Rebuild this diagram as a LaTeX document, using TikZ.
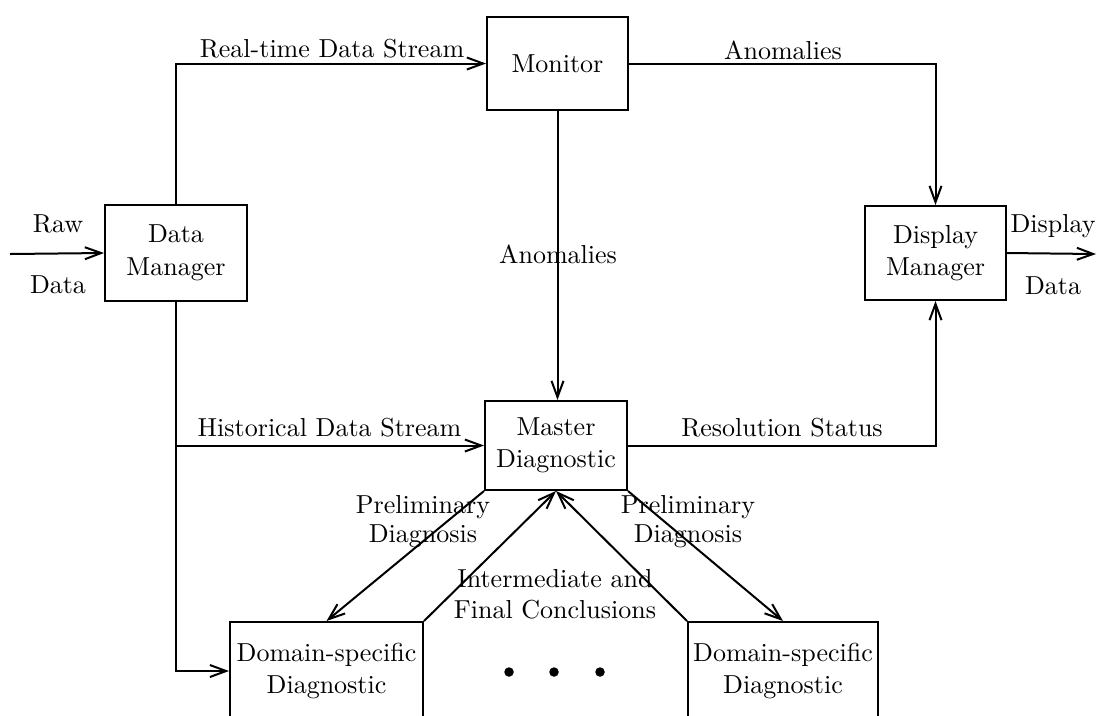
\documentclass[tikz,border=0pt]{standalone}
\usetikzlibrary{arrows.meta}
\begin{document}
\begin{tikzpicture}[x=0.4pt,y=-0.4pt,
  every node/.style={font=\fontsize{10.4}{13}\selectfont},
  box/.style={draw, line width=0.8pt, inner sep=0pt, align=center},
  lbl/.style={inner sep=0pt, anchor=base},
  dot/.style={circle, fill, inner sep=0pt, minimum size=3.8pt},
  flow/.style={line width=0.8pt, -{Straight Barb[length=6.5pt,width=4.8pt]}}]
\useasboundingbox (0,0) rectangle (1097,715);
\clip (0,0) rectangle (1097,715);

% processing blocks
\node[box, minimum width=56.4pt, minimum height=37.2pt] (mon) at (557.5,63.5) {Monitor};
\node[box, minimum width=56.8pt, minimum height=38.4pt] (dm) at (176,253) {Data\\Manager};
\node[box, minimum width=56.4pt, minimum height=37.6pt] (disp) at (935.5,253) {Display\\Manager};
\node[box, minimum width=56.8pt, minimum height=35.6pt] (master) at (556,445.5) {Master\\Diagnostic};
\node[box, minimum width=77.2pt, minimum height=39.2pt] (dom1) at (326.5,671) {Domain-specific\\Diagnostic};
\node[box, minimum width=76pt, minimum height=39.2pt] (dom2) at (783,671) {Domain-specific\\Diagnostic};

% ellipsis between the domain diagnostics
\node[dot] (d1) at (509,672) {};
\node[dot] (d2) at (554,672) {};
\node[dot] (d3) at (600,672) {};

% free ends
\coordinate (rawin) at (10,254);
\coordinate (dispout) at (1096,254);

% data flows
\draw[flow] (rawin) -- (dm.west);
\draw[flow] (dm.north) |- (mon.west);
\draw[flow] (mon.east) -| (disp.north);
\draw[flow] (mon.south) -- (mon.south |- master.north);
\draw[flow] (dm.south) |- (dom1.west);
\draw[flow] (dm.south |- master.west) -- (master.west);
\draw[flow] (master.east) -| (disp.south);
\draw[flow] (master.south west) -- (dom1.north);
\draw[flow] (dom1.north east) -- (master.south);
\draw[flow] (dom2.north west) -- (master.south);
\draw[flow] (master.south east) -- (dom2.north);
\draw[flow] (disp.east) -- (dispout);

% flow labels
\node[lbl] (lraw) at (58,232) {Raw};
\node[lbl] (lrawdata) at (58,293) {Data};
\node[lbl] (ldisp) at (1053,232) {Display};
\node[lbl] (ldispdata) at (1053,294) {Data};
\node[lbl] (lrt) at (332,57) {Real-time Data Stream};
\node[lbl] (lan1) at (783,59) {Anomalies};
\node[lbl] (lan2) at (558,263) {Anomalies};
\node[lbl] (lhist) at (329.5,436) {Historical Data Stream};
\node[lbl] (lres) at (782,436) {Resolution Status};
\node[lbl] (lpl1) at (423,513) {Preliminary};
\node[lbl] (lpl2) at (423,542) {Diagnosis};
\node[lbl] (lpr1) at (688,513) {Preliminary};
\node[lbl] (lpr2) at (688,542) {Diagnosis};
\node[lbl] (lint1) at (555,587) {Intermediate and};
\node[lbl] (lint2) at (555,618) {Final Conclusions};
\end{tikzpicture}
\end{document}
